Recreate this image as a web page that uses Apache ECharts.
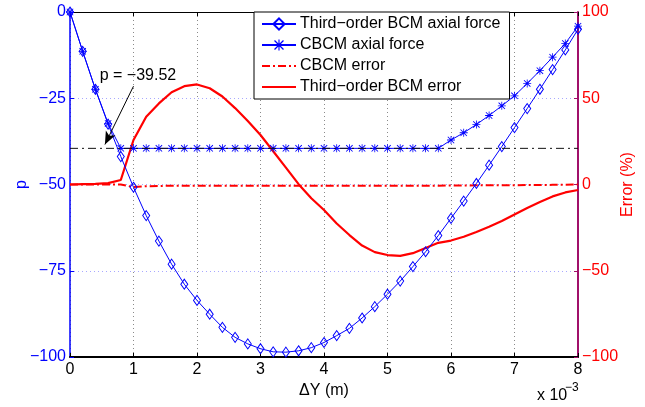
<!DOCTYPE html>
<html>
<head>
<meta charset="utf-8">
<script src="https://cdn.jsdelivr.net/npm/echarts@6/dist/echarts.min.js"></script>
<style>
  html, body { margin: 0; padding: 0; background: #ffffff; }
  #chart { width: 645px; height: 407px; }
</style>
</head>
<body>
<div id="chart"></div>
<script>
// Displacement ΔY (×10^-3 m)
const dY = [0, 0.2, 0.4, 0.6, 0.8, 1.0, 1.2, 1.4, 1.6, 1.8, 2.0, 2.2, 2.4, 2.6, 2.8, 3.0,
  3.2, 3.4, 3.6, 3.8, 4.0, 4.2, 4.4, 4.6, 4.8, 5.0, 5.2, 5.4, 5.6, 5.8, 6.0, 6.2, 6.4,
  6.6, 6.8, 7.0, 7.2, 7.4, 7.6, 7.8, 8.0];

// Axial force p, third-order BCM
const pThirdOrder = [0, -11.4, -22.4, -32.5, -41.9, -50.8, -59.0, -66.4, -73.1, -78.9, -83.6,
  -87.6, -91.4, -94.3, -96.2, -97.6, -98.5, -98.6, -98.2, -97.3, -95.8, -93.8, -91.7, -88.7,
  -85.4, -81.8, -78.0, -73.8, -69.5, -64.8, -59.8, -54.8, -49.7, -44.4, -39.0, -33.5, -28.0,
  -22.4, -16.7, -11.0, -5.0];

// Axial force p, CBCM (clamped at the buckling load)
const pCBCM = [0, -11.4, -22.4, -32.3, -39.52, -39.52, -39.52, -39.52, -39.52, -39.52, -39.52,
  -39.52, -39.52, -39.52, -39.52, -39.52, -39.52, -39.52, -39.52, -39.52, -39.52, -39.52, -39.52,
  -39.52, -39.52, -39.52, -39.52, -39.52, -39.52, -39.52, -37.1, -35.0, -32.6, -30.0, -27.2,
  -24.3, -20.7, -17.0, -13.1, -9.1, -4.1];

// Error (%), CBCM
const errCBCM = [0, 0, 0, 0, 0, -1.5, -1.0, -0.9, -0.7, -0.7, -0.7, -0.7, -0.7, -0.7, -0.7,
  -0.7, -0.7, -0.7, -0.7, -0.7, -0.7, -0.7, -0.7, -0.7, -0.7, -0.7, -0.7, -0.7, -0.7, -0.7,
  -0.6, -0.6, -0.5, -0.5, -0.4, -0.4, -0.3, -0.3, -0.2, -0.1, 0.0];

// Error (%), third-order BCM
const errThirdOrder = [0, 0.2, 0.4, 0.8, 2.6, 25.8, 39.3, 47.0, 53.5, 57.0, 58.0, 55.8, 51.0,
  44.3, 36.8, 28.7, 19.3, 9.8, 0.2, -8.0, -14.8, -22.6, -29.3, -35.4, -39.2, -40.9, -41.4,
  -39.8, -36.8, -33.8, -32.5, -30.3, -27.5, -24.5, -21.2, -17.4, -13.6, -10.2, -6.9, -4.6, -3.2];

// Buckling load reference line and its annotation
const pBuckling = -39.52;
const refLineX = [0, 8];
const arrowFrom = [1.0, -21.5];
const arrowTo = [0.55, -38.4];
const annotAt = [1.07, -18.5];

const xTicks = { min: 0, max: 8, interval: 1 };
const pTicks = { min: -100, max: 0, interval: 25 };
const errTicks = { min: -100, max: 100, interval: 50 };

const names = {
  third: 'Third\u2212order BCM axial force',
  cbcm: 'CBCM axial force',
  cbcmErr: 'CBCM error',
  thirdErr: 'Third\u2212order BCM error'
};

const FONT = "'Liberation Sans', Arial, Helvetica, sans-serif";
const BLUE = '#0000ff';
const RED = '#ff0000';
const minus = v => String(v).replace('-', '\u2212');
const pairs = ys => dY.map((x, i) => [x, ys[i]]);

// Eight-armed asterisk marker
const ASTERISK = 'path://M0,4.5L10,4.5L10,5.5L0,5.5Z M4.5,0L5.5,0L5.5,10L4.5,10Z ' +
  'M1.4,0.6L9.4,8.6L8.6,9.4L0.6,1.4Z M8.6,0.6L9.4,1.4L1.4,9.4L0.6,8.6Z';

// Line-only legend entries (no marker)
const lineOnly = { itemStyle: { opacity: 0 } };

const chart = echarts.init(document.getElementById('chart'), null, { renderer: 'canvas' });

chart.setOption({
  animation: false,
  textStyle: { fontFamily: FONT },
  grid: { left: 70, right: 67, top: 12, bottom: 50, containLabel: false, outerBoundsMode: 'none' },
  legend: {
    data: [
      { name: names.third },
      { name: names.cbcm },
      Object.assign({ name: names.cbcmErr }, lineOnly),
      Object.assign({ name: names.thirdErr }, lineOnly)
    ],
    orient: 'vertical',
    left: 254,
    top: 12,
    padding: [4, 9, 4, 7],
    itemGap: 5,
    itemWidth: 34,
    itemHeight: 14,
    backgroundColor: '#ffffff',
    borderColor: '#000000',
    borderWidth: 1,
    textStyle: { fontFamily: FONT, fontSize: 16, color: '#000000', padding: [0, 0, 0, -1] }
  },
  xAxis: [{
    type: 'value',
    min: xTicks.min, max: xTicks.max, interval: xTicks.interval,
    name: '\u0394Y (m)',
    nameLocation: 'middle',
    nameGap: 26,
    nameTextStyle: { fontFamily: FONT, fontSize: 16, color: '#000000' },
    axisLine: { onZero: false, lineStyle: { color: '#000000', width: 2 } },
    axisTick: { inside: true, length: 4, lineStyle: { color: '#000000', width: 1 } },
    axisLabel: { fontFamily: FONT, fontSize: 16, color: '#000000', margin: 5 },
    splitLine: { show: true, lineStyle: { color: '#8a8a8a', type: [1, 3], width: 1 } }
  }, {
    type: 'value',
    position: 'top',
    min: xTicks.min, max: xTicks.max, interval: xTicks.interval,
    axisLine: { onZero: false, lineStyle: { color: '#000000', width: 1 } },
    axisTick: { inside: true, length: 4, lineStyle: { color: '#000000' } },
    axisLabel: { show: false },
    splitLine: { show: false }
  }],
  yAxis: [{
    type: 'value',
    position: 'left',
    min: pTicks.min, max: pTicks.max, interval: pTicks.interval,
    name: 'p',
    nameLocation: 'middle',
    nameRotate: 90,
    nameGap: 40,
    nameMoveOverlap: false,
    nameTextStyle: { fontFamily: FONT, fontSize: 16, color: BLUE },
    axisLine: { onZero: false, lineStyle: { color: BLUE, width: 1.5 } },
    axisTick: { inside: true, length: 4, lineStyle: { color: BLUE } },
    axisLabel: { fontFamily: FONT, fontSize: 16, color: BLUE, margin: 4, formatter: minus },
    splitLine: { show: true, lineStyle: { color: '#a8a8ff', type: [1, 3], width: 1 } }
  }, {
    type: 'value',
    position: 'right',
    min: errTicks.min, max: errTicks.max, interval: errTicks.interval,
    name: 'Error (%)',
    nameLocation: 'middle',
    nameRotate: 90,
    nameGap: 42,
    nameMoveOverlap: false,
    nameTextStyle: { fontFamily: FONT, fontSize: 16, color: RED },
    axisLine: { onZero: false, lineStyle: { color: '#a0106a', width: 2 } },
    axisTick: { inside: true, length: 4, lineStyle: { color: '#a0106a' } },
    axisLabel: { fontFamily: FONT, fontSize: 16, color: RED, margin: 4, formatter: minus },
    splitLine: { show: false }
  }],
  series: [{
    name: names.cbcmErr,
    type: 'line',
    yAxisIndex: 1,
    data: pairs(errCBCM),
    showSymbol: false,
    symbol: 'none',
    z: 2,
    lineStyle: { color: RED, width: 2, type: [8, 3, 2, 3] },
    itemStyle: { color: RED }
  }, {
    name: names.thirdErr,
    type: 'line',
    yAxisIndex: 1,
    data: pairs(errThirdOrder),
    showSymbol: false,
    symbol: 'none',
    z: 2,
    lineStyle: { color: RED, width: 2.2 },
    itemStyle: { color: RED }
  }, {
    name: names.third,
    type: 'line',
    yAxisIndex: 0,
    data: pairs(pThirdOrder),
    symbol: 'diamond',
    symbolSize: [7, 10],
    z: 3,
    lineStyle: { color: BLUE, width: 1 },
    itemStyle: { color: 'rgba(0,0,0,0)', borderColor: BLUE, borderWidth: 1 }
  }, {
    name: names.cbcm,
    type: 'line',
    yAxisIndex: 0,
    data: pairs(pCBCM),
    symbol: ASTERISK,
    symbolSize: 8,
    z: 3,
    lineStyle: { color: BLUE, width: 1 },
    itemStyle: { color: BLUE, borderWidth: 0 }
  }, {
    name: 'buckling',
    type: 'line',
    yAxisIndex: 0,
    data: refLineX.map(x => [x, pBuckling]),
    symbol: 'none',
    silent: true,
    z: 4,
    lineStyle: { color: '#111111', width: 1, type: [8, 4, 2, 4] },
    markLine: {
      silent: true,
      symbol: ['none', 'arrow'],
      symbolSize: [8, 13],
      label: { show: false },
      lineStyle: { color: '#000000', width: 1, type: 'solid' },
      data: [[{ coord: arrowFrom }, { coord: arrowTo }]]
    },
    markPoint: {
      silent: true,
      symbol: 'circle',
      symbolSize: 0,
      label: {
        show: true,
        position: 'inside',
        formatter: 'p = ' + minus(pBuckling),
        fontFamily: FONT,
        fontSize: 16,
        color: '#000000'
      },
      data: [{ coord: annotAt }]
    }
  }],
  graphic: [{
    type: 'text',
    left: 537,
    top: 388,
    style: { text: 'x 10', fontFamily: FONT, fontSize: 16, fill: '#000000' }
  }, {
    type: 'text',
    left: 565,
    top: 382,
    style: { text: '\u22123', fontFamily: FONT, fontSize: 12, fill: '#000000' }
  }]
});
</script>
</body>
</html>
